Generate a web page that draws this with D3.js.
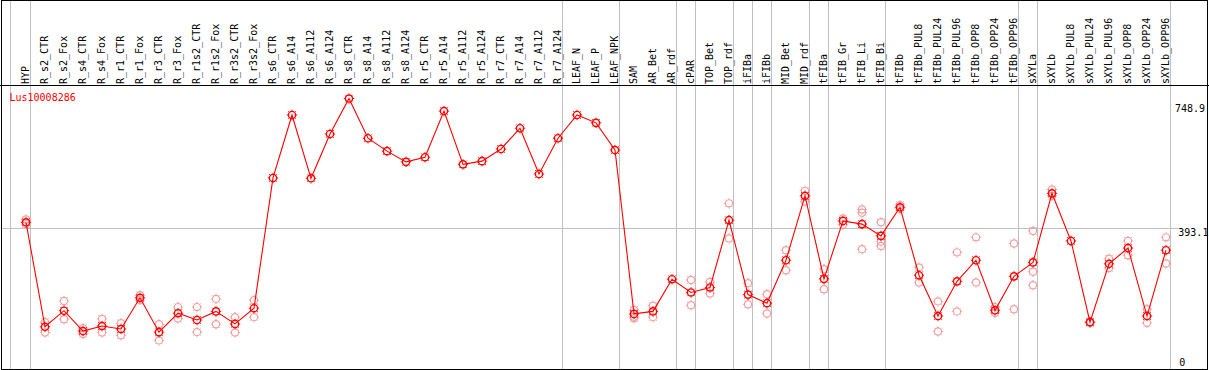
<!DOCTYPE html>
<html>
<head>
<meta charset="utf-8">
<script src="https://cdn.jsdelivr.net/npm/d3@7/dist/d3.min.js"></script>
<style>
  html, body { margin: 0; padding: 0; background: #fff; }
  svg { display: block; }
  text { font-family: "DejaVu Sans Mono", monospace; font-size: 10px; }
</style>
</head>
<body>
<svg id="chart" width="1209" height="370"></svg>
<script>
const categories = ["HYP","R_s2_CTR","R_s2_Fox","R_s4_CTR","R_s4_Fox","R_r1_CTR","R_r1_Fox","R_r3_CTR","R_r3_Fox",
  "R_r1s2_CTR","R_r1s2_Fox","R_r3s2_CTR","R_r3s2_Fox","R_s6_CTR","R_s6_A14","R_s6_A112","R_s6_A124",
  "R_s8_CTR","R_s8_A14","R_s8_A112","R_s8_A124","R_r5_CTR","R_r5_A14","R_r5_A112","R_r5_A124",
  "R_r7_CTR","R_r7_A14","R_r7_A112","R_r7_A124","LEAF_N","LEAF_P","LEAF_NPK","SAM","AR_Bet","AR_rdf",
  "cPAR","TOP_Bet","TOP_rdf","iFIBa","iFIBb","MID_Bet","MID_rdf","tFIBa","tFIB_Gr","tFIB_Li","tFIB_Bi",
  "tFIBb","tFIBb_PUL8","tFIBb_PUL24","tFIBb_PUL96","tFIBb_OPP8","tFIBb_OPP24","tFIBb_OPP96","sXYLa",
  "sXYLb","sXYLb_PUL8","sXYLb_PUL24","sXYLb_PUL96","sXYLb_OPP8","sXYLb_OPP24","sXYLb_OPP96"];

const meanValues = [410, 118, 163, 106, 120, 112, 199, 103, 156,
  137, 161, 126, 170, 534, 710, 533, 657,
  756, 645, 609, 579, 592, 721, 572, 581,
  615, 673, 545, 645, 710, 688, 612, 154, 161, 251,
  214, 228, 416, 208, 184, 304, 484, 252, 414, 405, 372,
  452, 262, 148, 245, 304, 164, 259, 298,
  491, 358, 131, 294, 338, 148, 332];

const replicateValues = [[418, 405], [131, 102], [190, 139], [114, 98], [140, 102], [128, 94], [206, 193], [125, 80], [173, 141],
  [173, 103], [196, 125], [145, 102], [192, 145], [], [], [], [],
  [], [], [], [], [], [], [], [],
  [], [], [], [], [], [], [], [165, 146, 142], [177, 145], [],
  [249, 178], [243, 211], [463, 365], [240, 181], [209, 155], [332, 276], [498, 468], [279, 223], [421, 403], [446, 437, 335], [410, 356, 344],
  [458, 447], [284, 242], [189, 105], [326, 161], [368, 242], [173, 157], [351, 167], [386, 272, 234],
  [502, 484], [], [132, 129], [308, 282], [358, 318], [167, 129], [368, 295]];

const groupEnds = ["HYP","R_r7_A124","LEAF_NPK","AR_rdf","cPAR","TOP_rdf","iFIBa","iFIBb","MID_rdf","tFIBa","tFIB_Bi","tFIBb_OPP96","sXYLa","sXYLb_OPP96"];
const tickValues = [0, 393.1, 748.9];
const geneLabel = "Lus10008286";

const W = 1209, H = 370;
const headerBottom = 85.5, plotBottom = 369;
const svg = d3.select("#chart");

const x = d3.scalePoint().domain(categories).range([26, 1166]);
const y = d3.scaleLinear().domain([0, 748.9 * 1.06]).range([plotBottom, 85]);

// group separator lines
const sepX = [x(categories[0]) - 15.5].concat(groupEnds.map(c => x(c) + 4.5));
svg.append("g").selectAll("line").data(sepX).join("line")
  .attr("x1", d => d).attr("x2", d => d).attr("y1", 0).attr("y2", plotBottom)
  .attr("stroke", "#c0c0c0").attr("stroke-width", 1).attr("shape-rendering", "crispEdges");

// horizontal gridline at middle tick
svg.append("line").attr("x1", 1).attr("x2", 1178)
  .attr("y1", Math.round(y(tickValues[1])) + 0.5).attr("y2", Math.round(y(tickValues[1])) + 0.5)
  .attr("stroke", "#c0c0c0").attr("shape-rendering", "crispEdges");

// header labels
svg.append("g").selectAll("text").data(categories).join("text")
  .attr("transform", d => `translate(${x(d) + 3},84) rotate(-90)`)
  .attr("fill", "#000").text(d => d);

// header separator
svg.append("line").attr("x1", 0).attr("x2", W).attr("y1", headerBottom).attr("y2", headerBottom)
  .attr("stroke", "#000").attr("shape-rendering", "crispEdges");

// outer border
svg.append("rect").attr("x", 1.5).attr("y", 0.5).attr("width", 1206).attr("height", 368.5)
  .attr("fill", "none").attr("stroke", "#000").attr("shape-rendering", "crispEdges");

// gene label
svg.append("text").attr("x", 9.5).attr("y", 101.3).attr("fill", "#ff0000").text(geneLabel);

// right-side value labels
const labelDx = [1179.3, 1178.3, 1175];
const labelDy = [-3.3, 7.4, 11.3];
svg.append("g").selectAll("text").data(tickValues).join("text")
  .attr("x", (d, i) => labelDx[i]).attr("y", (d, i) => y(d) + labelDy[i])
  .attr("fill", "#000").text(d => d === 0 ? "0" : d3.format(".1f")(d));

// marker
function marker(g, cx, cy, color, sw) {
  const m = g.append("g").attr("transform", `translate(${cx},${cy})`);
  m.append("circle").attr("r", 3.6).attr("fill", "none").attr("stroke", color).attr("stroke-width", sw);
  for (let k = 0; k < 8; k++) {
    const a = k * Math.PI / 4;
    m.append("line")
      .attr("x1", Math.cos(a) * 4.1).attr("y1", Math.sin(a) * 4.1)
      .attr("x2", Math.cos(a) * 5.2).attr("y2", Math.sin(a) * 5.2)
      .attr("stroke", color).attr("stroke-width", 1);
  }
}

// replicates
const repG = svg.append("g");
replicateValues.forEach((reps, i) => {
  reps.forEach(v => marker(repG, x(categories[i]), y(v), "#f0a0a0", 1.2));
});

// mean line
const line = d3.line().x((d, i) => x(categories[i])).y(d => y(d));
svg.append("path").datum(meanValues).attr("d", line)
  .attr("fill", "none").attr("stroke", "#ff0000").attr("stroke-width", 1.1);

// mean markers
const meanG = svg.append("g");
meanValues.forEach((v, i) => marker(meanG, x(categories[i]), y(v), "#ff0000", 1.4));
</script>
</body>
</html>
